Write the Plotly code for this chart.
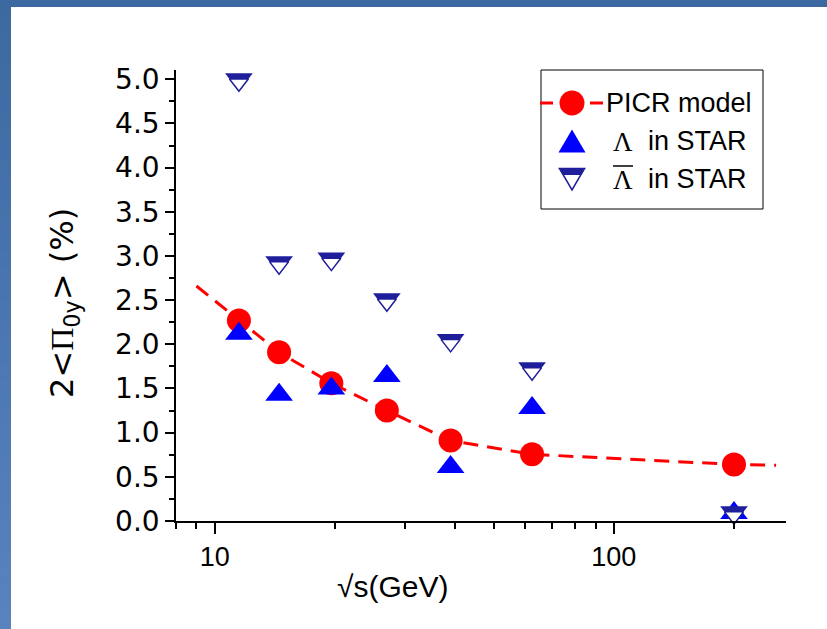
import math
import plotly.graph_objects as go

# ---------------- data ----------------
energy = [11.5, 14.5, 19.6, 27, 39, 62.4, 200]                 # sqrt(s) in GeV
picr_points = [2.27, 1.91, 1.56, 1.25, 0.91, 0.755, 0.64]        # PICR model at the STAR energies
picr_curve_x = [9, 11.5, 14.5, 19.6, 27, 39, 62.4, 200, 255]     # PICR model curve
picr_curve_y = [2.66, 2.27, 1.91, 1.56, 1.25, 0.91, 0.755, 0.64, 0.63]
lambda_star = [2.12, 1.43, 1.50, 1.64, 0.61, 1.28, 0.09]         # Lambda in STAR
antilambda_star = [5.0, 2.93, 2.97, 2.51, 2.05, 1.73, 0.10]      # anti-Lambda in STAR

x_tickvals = [10, 100]
x_ticktext = ["10", "100"]
x_minor = [8, 9, 20, 30, 40, 50, 60, 70, 80, 90, 200]

# ---------------- layout geometry / style ----------------
FIG_W, FIG_H = 827, 629
L, R, T, B = 176, 41, 70, 108
PW = FIG_W - L - R
PH = FIG_H - T - B


def fx(px):
    return (px - L) / PW


def fy(py):
    return (FIG_H - B - py) / PH


RED = "#ff0000"
BLUE = "#0000ff"
NAVY = "#1f1f9c"
SANS = "Liberation Sans, Arial, sans-serif"
SERIF = "Liberation Serif, Times New Roman, serif"
WIDE = "DejaVu Sans, sans-serif"

MS = 24           # marker size
K = 0.683         # inner/outer ratio for the half-filled down triangle
inner_size = MS * K
standoff = MS / 2 - inner_size / 2

fig = go.Figure()

fig.add_trace(go.Scatter(
    x=picr_curve_x, y=picr_curve_y, mode="lines",
    line=dict(color=RED, width=3, dash="15px,9px"), showlegend=False,
    hoverinfo="skip"))
fig.add_trace(go.Scatter(
    x=energy, y=picr_points, mode="markers", name="PICR model",
    marker=dict(symbol="circle", size=MS, color=RED, line=dict(width=0)),
    cliponaxis=False, showlegend=False))
fig.add_trace(go.Scatter(
    x=energy, y=lambda_star, mode="markers", name="Λ in STAR",
    marker=dict(symbol="triangle-up", size=MS, color=BLUE, line=dict(width=0)),
    cliponaxis=False, showlegend=False))
fig.add_trace(go.Scatter(
    x=energy, y=antilambda_star, mode="markers", name="anti-Λ in STAR",
    marker=dict(symbol="triangle-down", size=MS, color=NAVY, line=dict(width=0)),
    cliponaxis=False, showlegend=False))
fig.add_trace(go.Scatter(
    x=energy, y=antilambda_star, mode="markers", name="anti-Λ in STAR",
    marker=dict(symbol="triangle-down", size=inner_size, color="white",
                standoff=standoff, line=dict(width=1.5, color=NAVY)),
    cliponaxis=False, showlegend=False, hoverinfo="skip"))

shapes = []
# blue slide frame: top strip and left strip with a vertical gradient
TOP_C = (61, 105, 161)
BOT_C = (88, 131, 189)
shapes.append(dict(type="rect", xref="paper", yref="paper", layer="below",
                   x0=fx(-2), x1=fx(FIG_W + 2), y0=fy(-2), y1=fy(7),
                   fillcolor="rgb(%d,%d,%d)" % TOP_C, line=dict(width=0)))
NB = 40
for i in range(NB):
    t = (i + 0.5) / NB
    c = tuple(round(TOP_C[j] + (BOT_C[j] - TOP_C[j]) * t) for j in range(3))
    y0p = FIG_H * i / NB
    y1p = FIG_H * (i + 1) / NB + 1
    shapes.append(dict(type="rect", xref="paper", yref="paper", layer="below",
                       x0=fx(-2), x1=fx(11), y0=fy(y0p), y1=fy(y1p),
                       fillcolor="rgb(%d,%d,%d)" % c, line=dict(width=0)))

# ---------- legend (drawn by hand for the large symbols) ----------
LX0, LX1, LY0, LY1 = 541, 763, 70, 209
SYM_X = 572
ROWS = [103, 141, 179]
shapes.append(dict(type="rect", xref="paper", yref="paper", layer="above",
                   x0=fx(LX0), x1=fx(LX1), y0=fy(LY0), y1=fy(LY1),
                   fillcolor="white", line=dict(color="black", width=1)))
# row 1: dashed line + circle
for a, b in [(540, 553), (590, 603)]:
    shapes.append(dict(type="line", xref="paper", yref="paper", layer="above",
                       x0=fx(a), x1=fx(b), y0=fy(ROWS[0]), y1=fy(ROWS[0]),
                       line=dict(color=RED, width=3)))
shapes.append(dict(type="circle", xref="paper", yref="paper", layer="above",
                   xsizemode="pixel", ysizemode="pixel",
                   xanchor=fx(SYM_X), yanchor=fy(ROWS[0]),
                   x0=-12.5, x1=12.5, y0=-12.5, y1=12.5,
                   fillcolor=RED, line=dict(width=0)))
# row 2: filled up triangle
shapes.append(dict(type="path", xref="paper", yref="paper", layer="above",
                   xsizemode="pixel", ysizemode="pixel",
                   xanchor=fx(SYM_X), yanchor=fy(ROWS[1]),
                   path="M-13.5,-11.5 L13.5,-11.5 L0,11.5 Z",
                   fillcolor=BLUE, line=dict(width=0)))
# row 3: half-filled down triangle
shapes.append(dict(type="path", xref="paper", yref="paper", layer="above",
                   xsizemode="pixel", ysizemode="pixel",
                   xanchor=fx(SYM_X), yanchor=fy(ROWS[2]),
                   path="M-12.5,10.5 L12.5,10.5 L0,-11 Z",
                   fillcolor="white", line=dict(color=NAVY, width=1.5)))
shapes.append(dict(type="path", xref="paper", yref="paper", layer="above",
                   xsizemode="pixel", ysizemode="pixel",
                   xanchor=fx(SYM_X), yanchor=fy(ROWS[2]),
                   path="M-13.5,11 L13.5,11 L9.2,4 L-9.2,4 Z",
                   fillcolor=NAVY, line=dict(width=0)))
# overline of anti-Lambda
shapes.append(dict(type="line", xref="paper", yref="paper", layer="above",
                   x0=fx(613), x1=fx(633), y0=fy(166), y1=fy(166),
                   line=dict(color="black", width=1.5)))

annotations = []
LEG_FONT = 27
annotations.append(dict(xref="paper", yref="paper", x=fx(604), y=fy(ROWS[0]),
                        text="PICR model", showarrow=False, xanchor="left",
                        yanchor="middle", font=dict(family=SANS, size=LEG_FONT, color="black")))
for row in (ROWS[1], ROWS[2]):
    annotations.append(dict(xref="paper", yref="paper", x=fx(611), y=fy(row + 1),
                            text="Λ", showarrow=False, xanchor="left", yanchor="middle",
                            font=dict(family=SERIF, size=LEG_FONT, color="black")))
    annotations.append(dict(xref="paper", yref="paper", x=fx(646), y=fy(row),
                            text="in STAR", showarrow=False, xanchor="left", yanchor="middle",
                            font=dict(family=SANS, size=LEG_FONT, color="black")))

# axis titles
annotations.append(dict(xref="paper", yref="paper", x=fx(392), y=fy(586),
                        text="√s(GeV)", showarrow=False, xanchor="center", yanchor="middle",
                        font=dict(family=SANS, size=30, color="black")))
annotations.append(dict(xref="paper", yref="paper", x=fx(64), y=fy(303),
                        text="2&lt;<span style='font-family:Liberation Serif'>Π</span>"
                             "<sub>0y</sub>&gt; (%)",
                        textangle=-90, showarrow=False, xanchor="center", yanchor="middle",
                        font=dict(family=WIDE, size=32, color="black")))

fig.update_layout(
    width=FIG_W, height=FIG_H, autosize=False,
    margin=dict(l=L, r=R, t=T, b=B, pad=0),
    paper_bgcolor="white", plot_bgcolor="rgba(0,0,0,0)",
    showlegend=False,
    shapes=shapes, annotations=annotations,
    xaxis=dict(
        type="log", range=[math.log10(8), math.log10(270)],
        showline=True, linecolor="black", linewidth=1.5, mirror=False,
        showgrid=False, zeroline=False,
        tickmode="array", tickvals=x_tickvals, ticktext=x_ticktext,
        ticks="outside", ticklen=11, tickwidth=1.5, tickcolor="black",
        tickfont=dict(family=SANS, size=27, color="black"),
        minor=dict(tickmode="array", tickvals=x_minor, ticks="outside",
                   ticklen=6, tickwidth=1.5, tickcolor="black"),
    ),
    yaxis=dict(
        range=[0, 5.105], showline=True, linecolor="black", linewidth=1.5,
        showgrid=False, zeroline=False,
        tick0=0, dtick=0.5, tickformat=".1f",
        ticks="outside", ticklen=9, tickwidth=1.5, tickcolor="black",
        tickfont=dict(family=WIDE, size=28, color="black"),
        minor=dict(dtick=0.25, ticks="outside", ticklen=5, tickwidth=1.5,
                   tickcolor="black"),
    ),
)

fig.write_html(
    "out.html",
    config={"displayModeBar": False},
    post_script="document.body.style.margin='0';document.body.style.overflow='hidden';",
)
